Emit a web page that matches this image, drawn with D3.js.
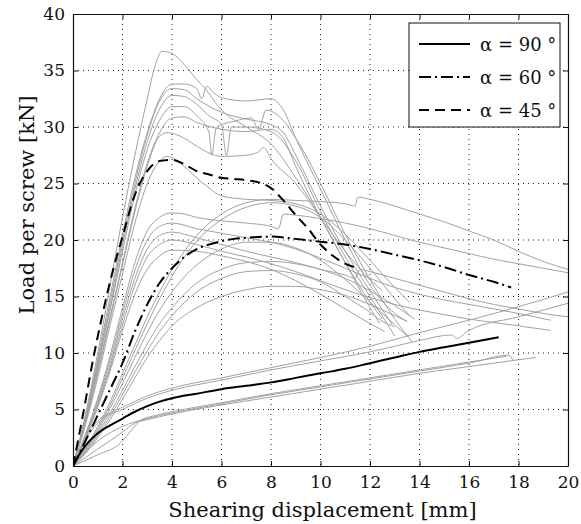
<!DOCTYPE html>
<html>
<head>
<meta charset="utf-8">
<script src="https://cdn.jsdelivr.net/npm/d3@7"></script>
<style>
  body { margin: 0; background: #fff; }
  text { font-family: "DejaVu Serif", "Liberation Serif", serif; fill: #111; }
</style>
</head>
<body>
<div id="chart"></div>
<script>
// ticks
const xTicks = [0, 2, 4, 6, 8, 10, 12, 14, 16, 18, 20];
const yTicks = [0, 5, 10, 15, 20, 25, 30, 35, 40];
const legendLabels = ["α = 90 °", "α = 60 °", "α = 45 °"];

// mean curves [displacement mm, load kN]
const alpha90 = [[0,0],[0.25,1],[0.5,1.8],[1,2.9],[1.5,3.6],[2,4.2],[2.5,4.8],[3,5.3],[3.5,5.7],[4,6.0],[5,6.4],[6,6.8],[7,7.1],[8,7.4],[9,7.8],[10,8.2],[11,8.6],[12,9.1],[13,9.6],[14,10.1],[15,10.5],[16,10.9],[17.2,11.4]];
const alpha60 = [[0,0],[0.5,2.2],[1,4.5],[1.5,6.8],[2,9.1],[2.5,11.9],[3,14.3],[3.5,16.2],[4,17.5],[4.5,18.5],[5,19.2],[5.5,19.6],[6,19.9],[6.5,20.1],[7,20.2],[8,20.3],[9,20.1],[10,19.85],[11,19.6],[12,19.2],[13,18.7],[14,18.2],[15,17.6],[16,16.9],[17,16.3],[17.7,15.8]];
const alpha45 = [[0,0],[0.4,4.5],[0.8,9.3],[1.2,13.5],[1.6,17.2],[2,20.3],[2.5,24.0],[3,26.1],[3.5,27.0],[4,27.1],[4.5,26.7],[5,26.1],[5.5,25.8],[6,25.5],[6.5,25.4],[7,25.3],[7.5,25.1],[8,24.6],[8.5,23.5],[9,22.2],[9.5,21.0],[10,19.6],[10.5,18.6],[11,17.9],[11.5,17.5]];

// single tests, 45 deg (steep)
const testA1 = [[0,0],[0.5,4.5],[1,10],[1.5,16],[2,22],[2.5,27.5],[3,32.5],[3.3,35.3],[3.6,36.7],[4,36.5],[4.5,35.5],[5,34.2],[5.3,33.5],[6,31.5],[7,30],[8,28.5],[9,25.5],[10,22],[11,18],[12,14],[12.4,12.6]];
const testA2 = [[0,0],[0.5,4.3],[1,9.5],[1.5,15],[2,20.5],[2.5,25.5],[3,29.5],[3.5,32.5],[4,33.8],[4.5,33.8],[5,33.4],[5.2,32.5],[5.4,33.6],[5.7,33],[6,32.6],[7,32.3],[8,32.5],[8.5,31.5],[9,29],[10,24.5],[11,20],[12,16],[13,13.5],[13.5,12.8]];
const testA3 = [[0,0],[0.5,4.2],[1,9.2],[1.5,14.5],[2,20],[2.5,25],[3,29.3],[3.5,32.3],[4,33.4],[4.5,33.3],[5,32.5],[6,31.3],[7,30.7],[8,30.2],[8.5,29.5],[9,27.5],[10,23],[11,19],[12,15.5],[12.9,12.5]];
const testA4 = [[0,0],[0.5,4.1],[1,9],[1.5,14],[2,19.5],[2.5,24.5],[3,28.7],[3.5,31.6],[4,32.8],[4.5,32.7],[5,32],[5.5,31],[6,30.2],[6.2,27.5],[6.4,30],[7,30],[8,29.6],[9,27],[10,22.5],[11,18.5],[12,15],[13,11.5]];
const testA5 = [[0,0],[0.5,4],[1,8.8],[1.5,13.8],[2,19],[2.5,24],[3,28],[3.5,30.6],[4,31.8],[4.5,31.8],[5,31],[5.5,29.5],[5.6,27.5],[5.8,30],[6.5,30.5],[7.2,30.8],[7.5,29.8],[7.8,31.5],[8.3,31],[9,29],[10,25],[11,20.5],[12,16.5],[13,13],[13.7,11]];
const testA6 = [[0,0],[0.5,3.9],[1,8.5],[1.5,13.2],[2,18],[2.5,22.8],[3,26.8],[3.5,29.5],[4,30.8],[4.5,30.9],[5,30.4],[6,29.8],[7,29.6],[8,29.8],[8.5,29],[9,26.5],[10,22],[11,18],[12,14.5],[12.5,13]];
const testA7 = [[0,0],[0.5,3.8],[1,8.2],[1.5,13],[2,17.8],[2.5,22.5],[3,26.5],[3.5,29.2],[3.8,29.5],[4.5,29],[5,28.3],[6,27.4],[7,27.5],[7.5,27.8],[7.7,28.2],[8,27.2],[9,25],[10,22],[11,19],[12,16.5],[12.5,15.5]];
const testA8 = [[0,0],[0.5,3.6],[1,7.8],[1.5,12.5],[2,17],[2.5,21.5],[3,25],[3.5,27],[3.8,27.4],[4.5,26.5],[5,25.5],[5.5,24.6],[6,23.9],[7,23.6],[8,23.5],[9,23.2],[10,22.3],[11,20.5],[12,18.2],[13,15.8],[13.6,14.5]];

// single tests, steep start with lower peak
const testD1 = [[0,0],[0.5,2.8],[1,6],[1.5,9.8],[2,14],[2.5,18],[3,20.8],[3.5,22],[4,22.4],[4.5,22.3],[5,22],[6,21.7],[7,21.5],[8,21.2],[8.3,21],[8.5,22.3],[9,22.2],[10,21.9],[11,21.5],[12,21.0],[13,20.4],[14,19.8],[15,19.3],[16,18.8],[17,18.3],[18,17.9],[19,17.5],[20,17.1]];
const testD2 = [[0,0],[0.5,2.7],[1,5.8],[1.5,9.4],[2,13.5],[2.5,17.3],[3,20],[3.5,21.2],[4,21.5],[5,21],[6,20.6],[7,20.2],[8,19.8],[9,19.2],[10,18.4],[11,17.5],[12,16.6],[13,15.8],[14,15.2],[15,14.7],[16,14.3],[17,13.9],[18,13.5],[19.3,12.9]];
const testD3 = [[0,0],[0.5,2.6],[1,5.6],[1.5,9],[2,13],[2.5,16.6],[3,19.2],[3.5,20.4],[4,20.7],[5,20.2],[6,19.6],[7,19],[8,18.5],[9,18],[10,17.4],[11,16.9],[11.4,16.6],[11.6,17.4],[12,17.2],[13,16.6],[14,16],[15,15.4],[16,14.8],[17,14.3],[18,13.9],[19,13.5],[20,13.2]];
const testD4 = [[0,0],[0.5,2.5],[1,5.4],[1.5,8.7],[2,12.5],[2.5,16],[3,18.5],[3.5,19.6],[4,20],[5,19.6],[6,19],[7,18.5],[8,17.9],[9,17.2],[10,16.4],[11,15.6],[12,14.9],[13,14.3],[14,13.8],[15,13.4],[16,13],[17,12.7],[18,12.4],[19.3,12]];
const testD5 = [[0,0],[0.5,2.4],[1,5.2],[1.5,8.4],[2,12],[2.5,15.2],[3,17.4],[3.5,18.6],[4,19.1],[5,19],[6,18.6],[7,18.1],[8,17.4],[9,16.4],[10,15.2],[11,13.9],[12,12.6],[12.6,11.9]];

// single tests, 60 deg
const testB1 = [[0,0],[0.5,1.6],[1,3.5],[1.5,5.7],[2,8.2],[2.5,10.7],[3,13.2],[3.5,15.4],[4,17.4],[4.5,19],[5,20.4],[6,22.3],[7,23.3],[8,23.6],[9,23.5],[10,23.4],[11,23.2],[11.4,23.0],[11.5,23.8],[12,23.6],[13,23],[14,22.3],[15,21.6],[16,20.8],[17,20],[18,19],[19,18.1],[20,17.4]];
const testB2 = [[0,0],[0.5,1.5],[1,3.3],[1.5,5.4],[2,7.8],[2.5,10.2],[3,12.6],[3.5,14.8],[4,16.8],[4.5,18.5],[5,19.9],[6,21.8],[7,22.9],[8,23.3],[9,23],[10,22],[11,20],[12,17.5],[13,14.8],[13.6,13.3]];
const testB3 = [[0,0],[0.5,1.4],[1,3.1],[1.5,5.1],[2,7.3],[2.5,9.6],[3,11.8],[3.5,13.8],[4,15.4],[5,17.8],[6,19.2],[7,19.8],[8,19.8],[9,19.3],[10,18.2],[11,16.5],[12,14.5],[13,12.5],[13.5,11.5]];
const testB4 = [[0,0],[0.5,1.3],[1,2.9],[1.5,4.7],[2,6.7],[2.5,8.8],[3,10.8],[3.5,12.6],[4,14],[5,16.2],[6,17.4],[7,18],[8,18.1],[9,17.9],[10,17.4],[11,16.6],[12,15.5],[13,14.2],[13.8,13]];
const testB5 = [[0,0],[0.5,1.1],[1,2.5],[1.5,4.1],[2,5.9],[2.5,7.8],[3,9.6],[3.5,11.1],[4,12.4],[5,14],[6,15],[7,15.6],[8,15.9],[9,15.9],[10,15.6],[11,15.1],[12,14.3],[13,13.3],[13.5,12.8]];
const testB6 = [[0,0],[0.5,1.2],[1,2.7],[1.5,4.4],[2,6.3],[2.5,8.3],[3,10.2],[3.5,11.9],[4,13.3],[5,15.4],[6,16.6],[7,17.2],[8,17.3],[9,17],[10,16.3],[11,15],[12,13.6],[12.5,12.8],[13,12.3]];

// single tests, 90 deg
const testC1 = [[0,0],[0.5,2.5],[1,4],[1.5,4.7],[2,5.2],[3,6.2],[4,6.9],[6,7.8],[8,8.7],[10,9.6],[12,10.6],[14,11.8],[16,12.9],[18,14.1],[20,15.4]];
const testC2 = [[0,0],[0.5,2.3],[1,3.8],[2,5.0],[3,6.0],[4,6.7],[6,7.6],[8,8.5],[10,9.3],[12,10.1],[13,10.6],[14,11.1],[15.3,11.6],[15.5,11.3],[16,12],[18,13.2],[20,14.4]];
const testC3 = [[0,0],[0.5,1.2],[1,2.2],[2,3.5],[3,4.2],[4,4.7],[6,5.5],[8,6.3],[10,7.0],[12,7.7],[14,8.4],[16,9.1],[17.6,9.8],[17.8,9.3]];
const testC4 = [[0,0],[1,1.5],[2,3],[2.5,3.8],[3,4.1],[4,4.6],[6,5.4],[8,6.1],[10,6.8],[12,7.5],[14,8.2],[16,8.8],[18,9.4],[18.7,9.6]];
const testC5 = [[0,0],[1,1],[1.9,2],[2.3,3],[2.7,4],[3.2,4.4],[4,4.8],[6,5.6],[8,6.4],[10,7.1],[12,7.8],[14,8.5],[16,9.2],[17.5,9.7]];

const tests = [testA1, testA2, testA3, testA4, testA5, testA6, testA7, testA8,
  testD1, testD2, testD3, testD4, testD5,
  testB1, testB2, testB3, testB4, testB5, testB6,
  testC1, testC2, testC3, testC4, testC5];

const means = [
  { label: legendLabels[0], values: alpha90, dash: null },
  { label: legendLabels[1], values: alpha60, dash: "12,4,2,4" },
  { label: legendLabels[2], values: alpha45, dash: "10,6" }
];

const width = 581, height = 524;
const margin = { top: 14, right: 13, bottom: 58, left: 73 };
const w = width - margin.left - margin.right;
const h = height - margin.top - margin.bottom;

const x = d3.scaleLinear().domain([0, 20]).range([0, w]);
const y = d3.scaleLinear().domain([0, 40]).range([h, 0]);

const svg = d3.select("#chart").append("svg")
  .attr("width", width).attr("height", height);
const g = svg.append("g").attr("transform", `translate(${margin.left},${margin.top})`);

g.append("clipPath").attr("id", "clip")
  .append("rect").attr("width", w).attr("height", h);

/* grid */
const grid = g.append("g").attr("class", "grid")
  .attr("stroke", "#222").attr("stroke-width", 1).attr("stroke-dasharray", "1,4");
grid.selectAll(".gx").data(xTicks.slice(1, -1)).enter().append("line")
  .attr("x1", d => x(d)).attr("x2", d => x(d)).attr("y1", 0).attr("y2", h);
grid.selectAll(".gy").data(yTicks.slice(1, -1)).enter().append("line")
  .attr("y1", d => y(d)).attr("y2", d => y(d)).attr("x1", 0).attr("x2", w);

const line = d3.line()
  .x(d => x(d[0]))
  .y(d => y(d[1]))
  .curve(d3.curveMonotoneX);

/* single tests */
g.append("g").attr("clip-path", "url(#clip)")
  .selectAll(".test").data(tests).enter().append("path")
  .attr("d", d => line(d))
  .attr("fill", "none")
  .attr("stroke", "#a2a2a2")
  .attr("stroke-width", 1);

/* mean curves */
g.append("g").attr("clip-path", "url(#clip)")
  .selectAll(".mean").data(means).enter().append("path")
  .attr("d", d => line(d.values))
  .attr("fill", "none")
  .attr("stroke", "#000")
  .attr("stroke-width", 2)
  .attr("stroke-dasharray", d => d.dash);

/* axes */
const fmt = d3.format("d");
g.append("g").attr("transform", `translate(0,${h})`)
  .call(d3.axisBottom(x).tickValues(xTicks).tickFormat(fmt).tickSizeInner(-5).tickSizeOuter(0).tickPadding(10));
g.append("g")
  .call(d3.axisLeft(y).tickValues(yTicks).tickFormat(fmt).tickSizeInner(-5).tickSizeOuter(0).tickPadding(8));
g.append("g")
  .call(d3.axisTop(x).tickValues(xTicks).tickFormat("").tickSizeInner(-5).tickSizeOuter(0));
g.append("g").attr("transform", `translate(${w},0)`)
  .call(d3.axisRight(y).tickValues(yTicks).tickFormat("").tickSizeInner(-5).tickSizeOuter(0));

g.selectAll(".domain").attr("stroke", "#111").attr("stroke-width", 1.2);
g.selectAll(".tick line").attr("stroke", "#111");
g.selectAll(".tick text").style("font-size", "17px").attr("fill", "#111");

/* labels */
svg.append("text")
  .attr("x", margin.left + w / 2 + 2).attr("y", 517)
  .attr("text-anchor", "middle").style("font-size", "21px")
  .text("Shearing displacement [mm]");
svg.append("text")
  .attr("transform", "translate(34,205) rotate(-90)")
  .attr("text-anchor", "middle").style("font-size", "21px")
  .text("Load per screw [kN]");

/* legend */
const lg = svg.append("g").attr("transform", "translate(409,23)");
lg.append("rect").attr("width", 151).attr("height", 104)
  .attr("fill", "#fff").attr("stroke", "#111").attr("stroke-width", 1);
const item = lg.selectAll(".item").data(means).enter().append("g")
  .attr("transform", (d, i) => `translate(0,${21 + i * 33})`);
item.append("line")
  .attr("x1", 10).attr("x2", 61).attr("y1", 0).attr("y2", 0)
  .attr("stroke", "#000").attr("stroke-width", 2)
  .attr("stroke-dasharray", d => d.dash);
item.append("text")
  .attr("x", 71).attr("y", 7)
  .style("font-size", "18px")
  .text(d => d.label);
</script>
</body>
</html>
